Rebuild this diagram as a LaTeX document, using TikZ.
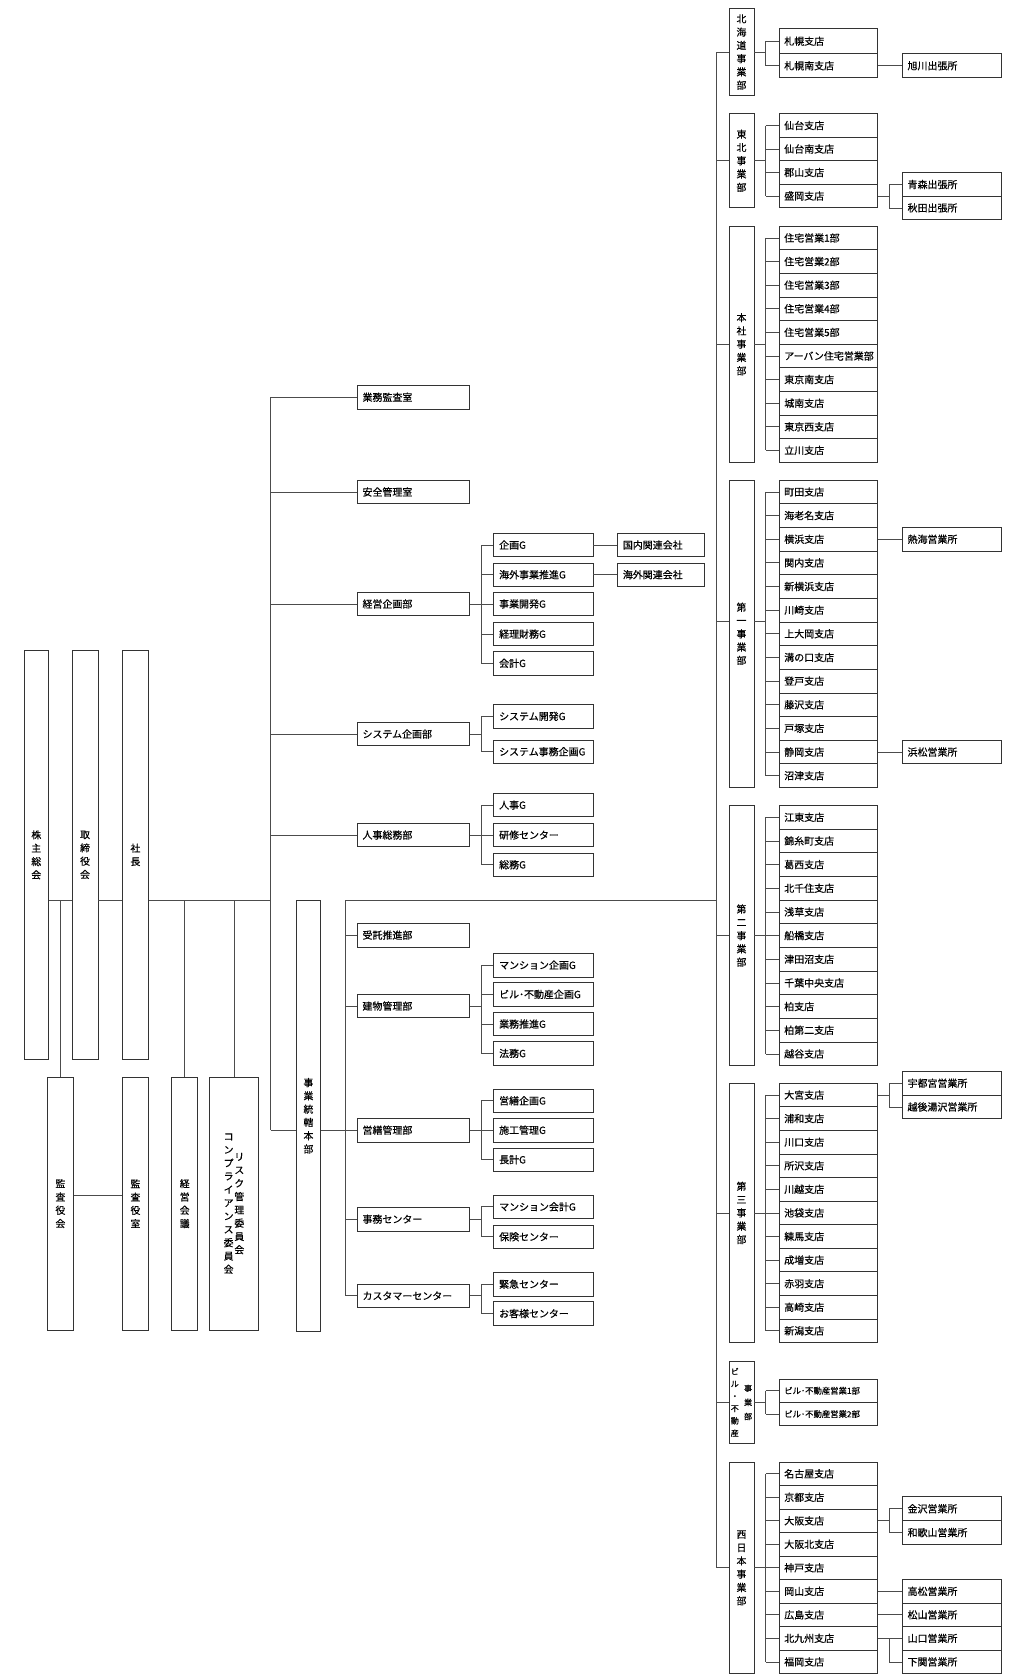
\documentclass[tikz,border=0pt]{standalone}
\usepackage{fontspec}
\setmainfont{Noto Sans CJK JP}[FakeBold=0.5]
\begin{document}
\begin{tikzpicture}[x=1pt,y=-1pt,
  hb/.style={draw=black!80, line width=0.75pt, rectangle, anchor=north west, inner xsep=5pt, inner ysep=0pt, align=left, font=\fontsize{9.3}{11}\selectfont},
  midb/.style={hb, text width=94.5pt, minimum height=22pt},
  grpb/.style={hb, text width=82.5pt, minimum height=22pt},
  relb/.style={hb, text width=71pt, minimum height=22pt},
  brb/.style={hb, text width=82pt, minimum height=#1},
  ofb/.style={hb, text width=82.5pt, minimum height=#1},
  vb/.style={draw=black!80, line width=0.75pt, rectangle, anchor=north west, inner sep=0pt, align=center, font=\fontsize{9.2}{12.4}\selectfont},
  ln/.style={draw=black!70, line width=0.7pt}
]
\useasboundingbox (0,0) rectangle (955,1568);

% ---------- left vertical boxes ----------
\node[vb, minimum width=23pt, minimum height=381pt] (kabu) at (22,607) {株\\主\\総\\会};
\node[vb, minimum width=24pt, minimum height=381pt] (tori) at (67,607) {取\\締\\役\\会};
\node[vb, minimum width=24pt, minimum height=381pt] (shacho) at (114,607) {社\\長};
\node[vb, minimum width=24pt, minimum height=236pt] (kansakai) at (44,1005) {監\\査\\役\\会};
\node[vb, minimum width=24pt, minimum height=236pt] (kansashitsu) at (114,1005) {監\\査\\役\\室};
\node[vb, minimum width=24pt, minimum height=236pt] (keiei) at (160,1005) {経\\営\\会\\議};
\node[vb, minimum width=46pt, minimum height=236pt] (risk) at (195,1005)
  {\parbox{10pt}{\centering コ\\ン\\プ\\ラ\\イ\\ア\\ン\\ス\\委\\員\\会}\parbox{10pt}{\centering リ\\ス\\ク\\管\\理\\委\\員\\会}};
\node[vb, minimum width=23pt, minimum height=402pt] (jigyo) at (276,840) {事\\業\\統\\轄\\本\\部};

% ---------- middle boxes ----------
\node[midb] (gyomu) at (333,359.4) {業務監査室};
\node[midb] (anzen) at (333,447.8) {安全管理室};
\node[midb] (keikaku) at (333,552.3) {経営企画部};
\node[midb] (sysk) at (333,673.7) {システム企画部};
\node[midb] (jinji) at (333,768) {人事総務部};
\node[midb] (jutaku) at (333,861.4) {受託推進部};
\node[midb] (tatemono) at (333,927.6) {建物管理部};
\node[midb] (eizen) at (333,1043.4) {営繕管理部};
\node[midb] (jimu) at (333,1126.5) {事務センター};
\node[midb] (cust) at (333,1198) {カスタマーセンター};

\node[grpb] (ga1) at (460.5,497.3) {企画G};
\node[grpb] (ga2) at (460.5,525) {海外事業推進G};
\node[grpb] (ga3) at (460.5,552.3) {事業開発G};
\node[grpb] (ga4) at (460.5,580.4) {経理財務G};
\node[grpb] (ga5) at (460.5,607.7) {会計G};
\node[relb] (kokunai) at (576,497.3) {国内関連会社};
\node[relb] (kaigai) at (576,525) {海外関連会社};

\node[grpb] (gb1) at (460.5,657.2) {システム開発G};
\node[grpb] (gb2) at (460.5,690.2) {システム事務企画G};

\node[grpb] (gc1) at (460.5,740) {人事G};
\node[grpb] (gc2) at (460.5,768) {研修センター};
\node[grpb] (gc3) at (460.5,795.7) {総務G};

\node[grpb] (gd1) at (460.5,889.4) {マンション企画G};
\node[grpb] (gd2) at (460.5,916.7) {ビル･不動産企画G};
\node[grpb] (gd3) at (460.5,944.4) {業務推進G};
\node[grpb] (gd4) at (460.5,971.8) {法務G};

\node[grpb] (ge1) at (460.5,1016) {営繕企画G};
\node[grpb] (ge2) at (460.5,1043.4) {施工管理G};
\node[grpb] (ge3) at (460.5,1071) {長計G};

\node[grpb] (gf1) at (460.5,1115) {マンション会計G};
\node[grpb] (gf2) at (460.5,1143) {保険センター};

\node[grpb] (gg1) at (460.5,1187.2) {緊急センター};
\node[grpb] (gg2) at (460.5,1214.6) {お客様センター};

% ---------- right: divisions ----------
\node[vb, minimum width=23.3pt, minimum height=80.9pt] (hok) at (680,7.8) {北\\海\\道\\事\\業\\部};
\node[vb, minimum width=23.3pt, minimum height=87.7pt] (toh) at (680,105.8) {東\\北\\事\\業\\部};
\node[vb, minimum width=23.3pt, minimum height=220.3pt] (hon) at (680,210.7) {本\\社\\事\\業\\部};
\node[vb, minimum width=23.3pt, minimum height=286.9pt] (dai1) at (680,447.7) {第\\一\\事\\業\\部};
\node[vb, minimum width=23.3pt, minimum height=242.9pt] (dai2) at (680,751.4) {第\\二\\事\\業\\部};
\node[vb, minimum width=23.3pt, minimum height=242.1pt] (dai3) at (680,1010.6) {第\\三\\事\\業\\部};
\node[vb, minimum width=23.3pt, minimum height=76.6pt] (biru) at (680,1270.2)
  {\parbox{10pt}{\centering\fontsize{7.5}{11.5}\selectfont ビ\\ル\\・\\不\\動\\産}\hspace{2.4pt}\parbox{10pt}{\centering\fontsize{7.5}{13.2}\selectfont 事\\業\\部}};
\node[vb, minimum width=23.3pt, minimum height=197.5pt] (nishi) at (680,1364.2) {西\\日\\本\\事\\業\\部};

% ---------- right: branches ----------
\node[brb=23.5pt] (rh1) at (726.6,26.3) {札幌支店};
\node[brb=22.4pt] (rh2) at (726.6,49.8) {札幌南支店};
\foreach \i/\y/\t in {1/105.80/仙台支店, 2/127.73/仙台南支店, 3/149.65/郡山支店, 4/171.58/盛岡支店}
  {\node[brb=21.93pt] (rt\i) at (726.6,\y) {\t};}
\foreach \i/\y/\t in {1/210.70/住宅営業1部, 2/232.73/住宅営業2部, 3/254.76/住宅営業3部, 4/276.79/住宅営業4部, 5/298.82/住宅営業5部, 6/320.85/アーバン住宅営業部, 7/342.88/東京南支店, 8/364.91/城南支店, 9/386.94/東京西支店, 10/408.97/立川支店}
  {\node[brb=22.03pt] (rk\i) at (726.6,\y) {\t};}
\foreach \i/\y/\t in {1/447.70/町田支店, 2/469.77/海老名支店, 3/491.84/横浜支店, 4/513.91/関内支店, 5/535.98/新横浜支店, 6/558.05/川崎支店, 7/580.12/上大岡支店, 8/602.19/溝の口支店, 9/624.26/登戸支店, 10/646.33/藤沢支店, 11/668.40/戸塚支店, 12/690.47/静岡支店, 13/712.54/沼津支店}
  {\node[brb=22.07pt] (ra\i) at (726.6,\y) {\t};}
\foreach \i/\y/\t in {1/751.40/江東支店, 2/773.48/錦糸町支店, 3/795.56/葛西支店, 4/817.64/北千住支店, 5/839.72/浅草支店, 6/861.80/船橋支店, 7/883.88/津田沼支店, 8/905.96/千葉中央支店, 9/928.04/柏支店, 10/950.12/柏第二支店, 11/972.20/越谷支店}
  {\node[brb=22.08pt] (rb\i) at (726.6,\y) {\t};}
\foreach \i/\y/\t in {1/1010.60/大宮支店, 2/1032.61/浦和支店, 3/1054.62/川口支店, 4/1076.63/所沢支店, 5/1098.64/川越支店, 6/1120.65/池袋支店, 7/1142.66/練馬支店, 8/1164.67/成増支店, 9/1186.68/赤羽支店, 10/1208.69/高崎支店, 11/1230.70/新潟支店}
  {\node[brb=22.01pt] (rc\i) at (726.6,\y) {\t};}
\node[brb=21.8pt, font=\fontsize{7.8}{9}\selectfont] (rd1) at (726.6,1286.7) {ビル･不動産営業1部};
\node[brb=21.8pt, font=\fontsize{7.8}{9}\selectfont] (rd2) at (726.6,1308.5) {ビル･不動産営業2部};
\foreach \i/\y/\t in {1/1364.20/名古屋支店, 2/1386.14/京都支店, 3/1408.08/大阪支店, 4/1430.02/大阪北支店, 5/1451.96/神戸支店, 6/1473.90/岡山支店, 7/1495.84/広島支店, 8/1517.78/北九州支店, 9/1539.72/福岡支店}
  {\node[brb=21.94pt] (rn\i) at (726.6,\y) {\t};}

% ---------- right: offices ----------
\node[ofb=22.4pt] (oAsahi) at (841.7,49.8) {旭川出張所};
\node[ofb=21.85pt] (oAomori) at (841.7,160.9) {青森出張所};
\node[ofb=21.85pt] (oAkita) at (841.7,182.75) {秋田出張所};
\node[ofb=22.07pt] (oAtami) at (841.7,491.84) {熱海営業所};
\node[ofb=22.07pt] (oHama) at (841.7,690.47) {浜松営業所};
\node[ofb=22.15pt] (oUtsu) at (841.7,999.5) {宇都宮営業所};
\node[ofb=22.15pt] (oEchigo) at (841.7,1021.65) {越後湯沢営業所};
\node[ofb=22.2pt] (oKana) at (841.7,1396.7) {金沢営業所};
\node[ofb=22.2pt] (oWaka) at (841.7,1418.9) {和歌山営業所};
\node[ofb=21.94pt] (oTaka) at (841.7,1473.90) {高松営業所};
\node[ofb=21.94pt] (oMatsu) at (841.7,1495.84) {松山営業所};
\node[ofb=21.94pt] (oYama) at (841.7,1517.78) {山口営業所};
\node[ofb=21.94pt] (oShimo) at (841.7,1539.72) {下関営業所};

% ---------- coordinates ----------
\coordinate (mY) at (0,840);
\coordinate (kY) at (0,1115.5);
\coordinate (d1c) at (0,580.1);
\coordinate (tA) at (252.5,0);
\coordinate (tB) at (322,0);
\coordinate (tC) at (668.4,0);
\coordinate (sM) at (449,0);
\coordinate (sR) at (714.8,0);
\coordinate (sO) at (830,0);

% ---------- left connectors ----------
\draw[ln] (kabu.east |- mY) -- (tori.west |- mY);
\draw[ln] (tori.east |- mY) -- (shacho.west |- mY);
\draw[ln] (shacho.east |- mY) -- (tA |- mY);
\draw[ln] (kansakai.north |- mY) -- (kansakai.north);
\draw[ln] (keiei.north |- mY) -- (keiei.north);
\draw[ln] (risk.north |- mY) -- (risk.north);
\draw[ln] (kansakai.east |- kY) -- (kansashitsu.west |- kY);

% trunk A
\draw[ln] (tA |- gyomu.west) -- (tA |- eizen.west);
\foreach \n in {gyomu,anzen,keikaku,sysk,jinji} {\draw[ln] (tA |- \n.west) -- (\n.west);}
\draw[ln] (tA |- eizen.west) -- (jigyo.west |- eizen.west);
\draw[ln] (jigyo.east |- eizen.west) -- (eizen.west);

% trunk B
\draw[ln] (tB |- mY) -- (tB |- cust.west);
\foreach \n in {jutaku,tatemono,jimu,cust} {\draw[ln] (tB |- \n.west) -- (\n.west);}
\draw[ln] (tB |- mY) -- (tC |- mY);

% middle brackets
\draw[ln] (keikaku.east) -- (sM |- keikaku.east);
\draw[ln] (sM |- ga1.west) -- (sM |- ga5.west);
\foreach \n in {ga1,ga2,ga3,ga4,ga5} {\draw[ln] (sM |- \n.west) -- (\n.west);}
\draw[ln] (ga1.east) -- (kokunai.west);
\draw[ln] (ga2.east) -- (kaigai.west);

\draw[ln] (sysk.east) -- (sM |- sysk.east);
\draw[ln] (sM |- gb1.west) -- (sM |- gb2.west);
\foreach \n in {gb1,gb2} {\draw[ln] (sM |- \n.west) -- (\n.west);}

\draw[ln] (jinji.east) -- (sM |- jinji.east);
\draw[ln] (sM |- gc1.west) -- (sM |- gc3.west);
\foreach \n in {gc1,gc2,gc3} {\draw[ln] (sM |- \n.west) -- (\n.west);}

\draw[ln] (tatemono.east) -- (sM |- tatemono.east);
\draw[ln] (sM |- gd1.west) -- (sM |- gd4.west);
\foreach \n in {gd1,gd2,gd3,gd4} {\draw[ln] (sM |- \n.west) -- (\n.west);}

\draw[ln] (eizen.east) -- (sM |- eizen.east);
\draw[ln] (sM |- ge1.west) -- (sM |- ge3.west);
\foreach \n in {ge1,ge2,ge3} {\draw[ln] (sM |- \n.west) -- (\n.west);}

\draw[ln] (jimu.east) -- (sM |- jimu.east);
\draw[ln] (sM |- gf1.west) -- (sM |- gf2.west);
\foreach \n in {gf1,gf2} {\draw[ln] (sM |- \n.west) -- (\n.west);}

\draw[ln] (cust.east) -- (sM |- cust.east);
\draw[ln] (sM |- gg1.west) -- (sM |- gg2.west);
\foreach \n in {gg1,gg2} {\draw[ln] (sM |- \n.west) -- (\n.west);}

% trunk C
\draw[ln] (tC |- hok.west) -- (tC |- nishi.west);
\foreach \n in {hok,toh,hon,dai2,dai3,biru,nishi} {\draw[ln] (tC |- \n.west) -- (\n.west);}
\draw[ln] (tC |- d1c) -- (dai1.west |- d1c);

% right brackets
\draw[ln] (hok.east) -- (sR |- hok.east);
\draw[ln] (sR |- rh1.west) -- (sR |- rh2.west);
\foreach \n in {rh1,rh2} {\draw[ln] (sR |- \n.west) -- (\n.west);}

\draw[ln] (toh.east) -- (sR |- toh.east);
\draw[ln] (sR |- rt1.west) -- (sR |- rt4.west);
\foreach \i in {1,...,4} {\draw[ln] (sR |- rt\i.west) -- (rt\i.west);}

\draw[ln] (hon.east) -- (sR |- hon.east);
\draw[ln] (sR |- rk1.west) -- (sR |- rk10.west);
\foreach \i in {1,...,10} {\draw[ln] (sR |- rk\i.west) -- (rk\i.west);}

\draw[ln] (dai1.east |- d1c) -- (sR |- d1c);
\draw[ln] (sR |- ra1.west) -- (sR |- ra13.west);
\foreach \i in {1,...,13} {\draw[ln] (sR |- ra\i.west) -- (ra\i.west);}

\draw[ln] (dai2.east) -- (sR |- dai2.east);
\draw[ln] (sR |- rb1.west) -- (sR |- rb11.west);
\foreach \i in {1,...,11} {\draw[ln] (sR |- rb\i.west) -- (rb\i.west);}

\draw[ln] (dai3.east) -- (sR |- dai3.east);
\draw[ln] (sR |- rc1.west) -- (sR |- rc11.west);
\foreach \i in {1,...,11} {\draw[ln] (sR |- rc\i.west) -- (rc\i.west);}

\draw[ln] (biru.east) -- (sR |- biru.east);
\draw[ln] (sR |- rd1.west) -- (sR |- rd2.west);
\foreach \n in {rd1,rd2} {\draw[ln] (sR |- \n.west) -- (\n.west);}

\draw[ln] (nishi.east) -- (sR |- nishi.east);
\draw[ln] (sR |- rn1.west) -- (sR |- rn9.west);
\foreach \i in {1,...,9} {\draw[ln] (sR |- rn\i.west) -- (rn\i.west);}

% offices
\draw[ln] (rh2.east) -- (oAsahi.west);
\draw[ln] (rt4.east) -- (sO |- rt4.east);
\draw[ln] (sO |- oAomori.west) -- (sO |- oAkita.west);
\foreach \n in {oAomori,oAkita} {\draw[ln] (sO |- \n.west) -- (\n.west);}
\draw[ln] (ra3.east) -- (oAtami.west);
\draw[ln] (ra12.east) -- (oHama.west);
\draw[ln] (rc1.east) -- (sO |- rc1.east);
\draw[ln] (sO |- oUtsu.west) -- (sO |- oEchigo.west);
\foreach \n in {oUtsu,oEchigo} {\draw[ln] (sO |- \n.west) -- (\n.west);}
\draw[ln] (rn3.east) -- (sO |- rn3.east);
\draw[ln] (sO |- oKana.west) -- (sO |- oWaka.west);
\foreach \n in {oKana,oWaka} {\draw[ln] (sO |- \n.west) -- (\n.west);}
\draw[ln] (rn6.east) -- (oTaka.west);
\draw[ln] (rn7.east) -- (oMatsu.west);
\draw[ln] (rn8.east) -- (sO |- rn8.east);
\draw[ln] (sO |- oYama.west) -- (sO |- oShimo.west);
\foreach \n in {oYama,oShimo} {\draw[ln] (sO |- \n.west) -- (\n.west);}
\end{tikzpicture}
\end{document}
